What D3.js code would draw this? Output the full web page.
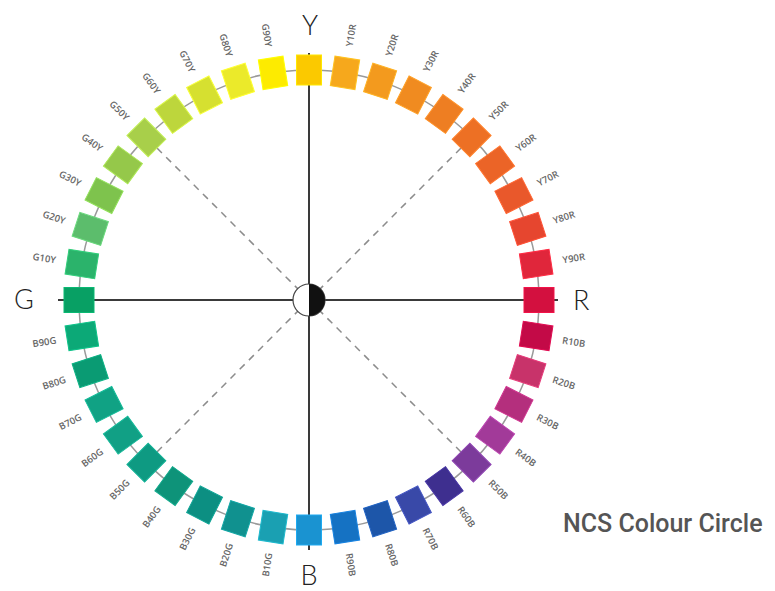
<!DOCTYPE html>
<html>
<head>
<meta charset="utf-8">
<script src="https://cdn.jsdelivr.net/npm/d3@7"></script>
<style>
  body { margin: 0; background: #fff; }
  svg { display: block; }
</style>
</head>
<body>
<div id="chart"></div>
<script>
// NCS hues, clockwise from Y at the top
const hues = [
  "Y", "Y10R", "Y20R", "Y30R", "Y40R", "Y50R", "Y60R", "Y70R", "Y80R", "Y90R",
  "R", "R10B", "R20B", "R30B", "R40B", "R50B", "R60B", "R70B", "R80B", "R90B",
  "B", "B10G", "B20G", "B30G", "B40G", "B50G", "B60G", "B70G", "B80G", "B90G",
  "G", "G10Y", "G20Y", "G30Y", "G40Y", "G50Y", "G60Y", "G70Y", "G80Y", "G90Y"
];

const hueColors = [
  "#fbc900", "#f6a81c", "#f39a1e", "#f08b20", "#ee7e22", "#ed7024", "#eb6427", "#e9582b", "#e6462f", "#e0263b",
  "#d3103f", "#c30a47", "#c8336a", "#b42f7d", "#a23a99", "#7c3b9b", "#3e2f8f", "#3949a8", "#1d56a9", "#1572c3",
  "#1a93d1", "#1aa0b2", "#10918f", "#0c8f82", "#0e9379", "#0e9a82", "#11a085", "#10a284", "#0a9b73", "#0ca977",
  "#08a064", "#2bb36b", "#5cbd6c", "#7ec34d", "#95c84a", "#a8cf4a", "#bdd63c", "#d6e030", "#ebea2a", "#fdeb00"
];

// elementary colours at the ends of the axes
const poles = ["Y", "R", "B", "G"];
// 45 degree hues joined to the centre by dashed lines
const diagonals = ["Y50R", "R50B", "B50G", "G50Y"];

const width = 775, height = 591;
const cx = 309, cy = 300;
const ringR = 230, labelR = 268;

const svg = d3.select("#chart").append("svg")
  .attr("width", width)
  .attr("height", height);

svg.append("defs").append("clipPath")
  .attr("id", "clip")
  .append("rect")
  .attr("width", 590)
  .attr("height", height);

const angle = d3.scaleLinear().domain([0, hues.length]).range([0, 360]);
const colorOf = d3.scaleOrdinal().domain(hues).range(hueColors);

const g = svg.append("g").attr("clip-path", "url(#clip)");
const center = g.append("g").attr("transform", `translate(${cx},${cy})`);

// grey ring behind the swatches
center.append("circle")
  .attr("r", ringR)
  .attr("fill", "none")
  .attr("stroke", "#9a9a9a")
  .attr("stroke-width", 1.5);

// dashed diagonals
center.selectAll("line.diag")
  .data(diagonals)
  .enter()
  .append("line")
  .attr("class", "diag")
  .attr("x1", 0).attr("y1", 0)
  .attr("x2", 0).attr("y2", -(ringR - 15))
  .attr("transform", d => `rotate(${angle(hues.indexOf(d))})`)
  .attr("stroke", "#8c8c8c")
  .attr("stroke-width", 1.5)
  .attr("stroke-dasharray", "7,6");

// main axes Y-B and G-R
center.append("line")
  .attr("x1", 0).attr("y1", 53 - cy)
  .attr("x2", 0).attr("y2", 550 - cy)
  .attr("stroke", "#3a3a3a")
  .attr("stroke-width", 2);

center.append("line")
  .attr("x1", 58 - cx).attr("y1", 0)
  .attr("x2", 558 - cx).attr("y2", 0)
  .attr("stroke", "#3a3a3a")
  .attr("stroke-width", 2);

// swatches
center.selectAll("rect.swatch")
  .data(hues)
  .enter()
  .append("rect")
  .attr("class", "swatch")
  .attr("transform", (d, i) => `rotate(${angle(i)})`)
  .attr("x", -12.5)
  .attr("y", -ringR - 15)
  .attr("width", 25)
  .attr("height", 30)
  .attr("fill", d => colorOf(d))
  .attr("stroke", d => d3.color(colorOf(d)).brighter(0.4))
  .attr("stroke-width", 1);

// small hue labels, radial
center.selectAll("text.hue")
  .data(hues.filter(d => !poles.includes(d)))
  .enter()
  .append("text")
  .attr("class", "hue")
  .attr("transform", d => {
    const a = angle(hues.indexOf(d));
    return `rotate(${a}) translate(0,${-labelR}) rotate(${a < 180 ? -90 : 90})`;
  })
  .attr("text-anchor", "middle")
  .attr("dominant-baseline", "central")
  .style("font-family", "'Open Sans', 'DejaVu Sans', sans-serif")
  .style("font-size", "9.5px")
  .style("font-weight", 600)
  .attr("fill", "#666")
  .text(d => d);

// centre disc: white half and black half
center.append("circle")
  .attr("r", 16)
  .attr("fill", "#fff")
  .attr("stroke", "#444")
  .attr("stroke-width", 1.2);

center.append("path")
  .attr("d", d3.arc()({ innerRadius: 0, outerRadius: 16, startAngle: 0, endAngle: Math.PI }))
  .attr("fill", "#111");

// elementary colour letters
const poleLabels = [
  { t: "Y", x: 310, y: 35, anchor: "middle" },
  { t: "R", x: 573, y: 310, anchor: "start" },
  { t: "B", x: 309, y: 585, anchor: "middle" },
  { t: "G", x: 14, y: 309, anchor: "start" }
];

g.selectAll("text.pole")
  .data(poleLabels)
  .enter()
  .append("text")
  .attr("class", "pole")
  .attr("x", d => d.x)
  .attr("y", d => d.y)
  .attr("text-anchor", d => d.anchor)
  .style("font-family", "Lato, 'Liberation Sans', sans-serif")
  .style("font-size", "27px")
  .style("font-weight", 300)
  .attr("fill", "#222")
  .text(d => d.t);

// caption
svg.append("text")
  .attr("x", 563)
  .attr("y", 532)
  .style("font-family", "Roboto, 'Open Sans', sans-serif")
  .style("font-size", "25px")
  .style("font-weight", 500)
  .attr("fill", "#555")
  .text("NCS Colour Circle");
</script>
</body>
</html>
